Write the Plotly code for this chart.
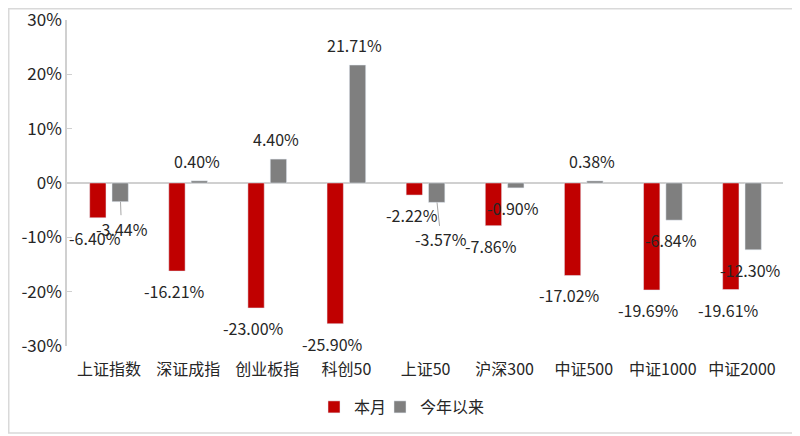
import plotly.graph_objects as go

categories = ['上证指数', '深证成指', '创业板指', '科创50', '上证50',
              '沪深300', '中证500', '中证1000', '中证2000']
month = [-6.40, -16.21, -23.00, -25.90, -2.22, -7.86, -17.02, -19.69, -19.61]
ytd = [-3.44, 0.40, 4.40, 21.71, -3.57, -0.90, 0.38, -6.84, -12.30]
tick_vals = [-30, -20, -10, 0, 10, 20, 30]
tick_text = ['-30%', '-20%', '-10%', '0%', '10%', '20%', '30%']

RED = '#C00000'
GREY = '#7F7F7F'
FONT = 'Noto Sans CJK SC'
TXT = '#262626'

# the page body has an 8px margin, so the figure is a bit smaller
W, H = 792, 428
L, R, T, B = 59, 17, 12, 90
PW, PH = W - L - R, H - T - B

fig = go.Figure()
fig.add_trace(go.Bar(x=categories, y=month, name='本月', marker_color=RED,
                     legend='legend'))
fig.add_trace(go.Bar(x=categories, y=ytd, name='今年以来', marker_color=GREY,
                     legend='legend2'))

# data labels placed like the excel chart, some with leader lines
leader = {(0, 1): (1, 27), (4, 1): (4, 37)}
annotations = []
for s, vals in enumerate([month, ytd]):
    dx = -11 if s == 0 else 11.5
    for i, v in enumerate(vals):
        txt = '%.2f%%' % v
        if (i, s) in leader:
            ax, ay = leader[(i, s)]
            annotations.append(dict(x=categories[i], y=v, xshift=dx, text=txt,
                                    showarrow=True, arrowhead=0, arrowwidth=1,
                                    arrowcolor='#A6A6A6', ax=ax, ay=ay,
                                    font=dict(size=16, color=TXT, family=FONT)))
        else:
            annotations.append(dict(x=categories[i], y=v, xshift=dx - 3,
                                    yshift=20 if v > 0 else -20, text=txt,
                                    showarrow=False,
                                    font=dict(size=16, color=TXT, family=FONT)))

leg = dict(orientation='h', xanchor='left', xref='container',
           y=29 / H, yanchor='middle', yref='container',
           font=dict(size=16, color=TXT), bgcolor='rgba(0,0,0,0)', itemwidth=30)

fig.update_layout(
    width=W, height=H,
    margin=dict(l=L, r=R, t=T, b=B),
    paper_bgcolor='white', plot_bgcolor='white',
    barmode='group', bargap=0.435, bargroupgap=0.27,
    font=dict(family=FONT, size=16, color=TXT),
    showlegend=True,
    legend=dict(leg, x=(314 - 8) / W),
    legend2=dict(leg, x=(380 - 8) / W),
    annotations=annotations,
    shapes=[dict(type='rect', xref='paper', yref='paper',
                 x0=(0.75 - L) / PW, x1=(789 - L) / PW,
                 y0=(PH + T - 425) / PH, y1=(PH + T - 0.75) / PH,
                 line=dict(color='#D9D9D9', width=1.5), layer='below')],
)
fig.update_xaxes(showgrid=False, showline=False, automargin=False,
                 ticks='outside', ticklen=9, tickcolor='rgba(0,0,0,0)',
                 tickfont=dict(size=16, color=TXT))
fig.update_yaxes(range=[-30, 30], tickvals=tick_vals, ticktext=tick_text,
                 automargin=False, ticklabeloverflow='allow',
                 showgrid=False, showline=True, linecolor='#D0D0D0', linewidth=1.5,
                 ticks='inside', ticklen=5, tickcolor='#D0D0D0',
                 zeroline=True, zerolinecolor='#D0D0D0', zerolinewidth=1.5,
                 tickfont=dict(size=17, color=TXT))

fig.write_html('out.html')
